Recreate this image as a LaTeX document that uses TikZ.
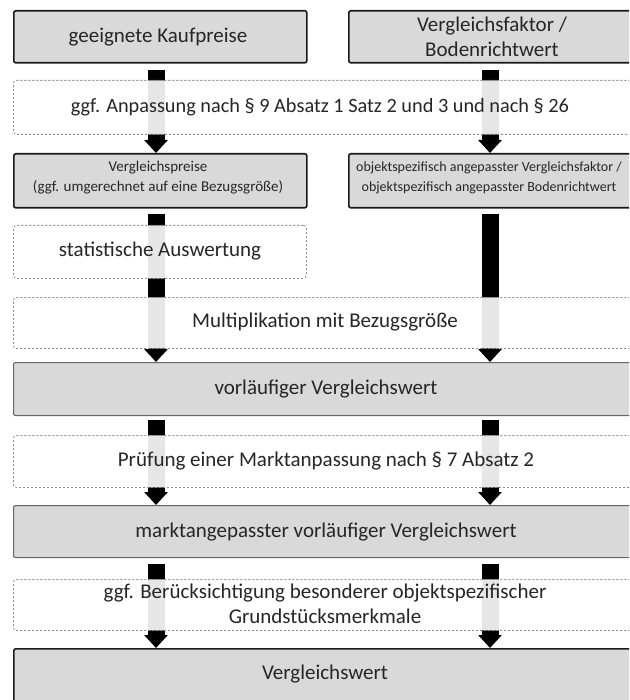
\documentclass[tikz,border=0pt]{standalone}
\usepackage{fontspec}
\setmainfont{Carlito}
\usetikzlibrary{arrows.meta}
\pgfdeclarelayer{bg}
\pgfsetlayers{bg,main}
\begin{document}
\begin{tikzpicture}[x=1pt,y=-1pt,
  solidbox/.style={draw=black!60, line width=1.1pt, fill=black!15, rounded corners=2pt, anchor=north west, inner sep=0pt},
  topbox/.style={solidbox, draw=black!90, line width=1.6pt},
  dashbox/.style={draw=black!45, line width=0.8pt, dash pattern=on 2pt off 2pt, fill=white, fill opacity=0.9, rounded corners=3pt, anchor=north west, inner sep=0pt},
  lbl/.style={text=black!85, font=\fontsize{21}{25}\selectfont, align=center, inner sep=0pt},
  widelbl/.style={lbl, font=\fontsize{20.3}{25}\selectfont},
  small/.style={lbl, font=\fontsize{15}{20}\selectfont},
  smaller/.style={lbl, font=\fontsize{14}{20}\selectfont},
  flow/.style={line width=17pt, black, -{Triangle[width=23pt,length=13pt]}},
]
\useasboundingbox (0,0) rectangle (629,700);
\clip (0,0) rectangle (629,700);
\coordinate (colL) at (156,0);
\coordinate (colR) at (490,0);
% dashed boxes
\node[dashbox, minimum width=700pt, minimum height=54pt] (d1) at (13,80) {};
\node[dashbox, minimum width=293pt, minimum height=53pt] (d2) at (13,225) {};
\node[dashbox, minimum width=700pt, minimum height=51pt] (d3) at (13,297) {};
\node[dashbox, minimum width=700pt, minimum height=52pt] (d4) at (13,435) {};
\node[dashbox, minimum width=700pt, minimum height=51pt] (d5) at (13,579) {};
% solid boxes
\node[topbox, minimum width=293pt, minimum height=52pt] (b1) at (13,10) {};
\node[topbox, minimum width=400pt, minimum height=52pt] (b2) at (348,10) {};
\node[topbox, minimum width=293pt, minimum height=54pt] (b3) at (13,153) {};
\node[topbox, minimum width=400pt, minimum height=54pt] (b4) at (348,153) {};
\node[solidbox, minimum width=700pt, minimum height=53pt] (b5) at (13,362) {};
\node[solidbox, minimum width=700pt, minimum height=52pt] (b6) at (13,505) {};
\node[topbox, minimum width=700pt, minimum height=80pt] (b7) at (13,648) {};
% arrows
\begin{pgfonlayer}{bg}
\draw[flow] ([yshift=-6pt]b1.south -| colL) -- (b3.north -| colL);
\draw[flow] ([yshift=-6pt]b2.south -| colR) -- (b4.north -| colR);
\draw[flow] ([yshift=-5pt]b3.south -| colL) -- (b5.north -| colL);
\draw[flow] ([yshift=-5pt]b4.south -| colR) -- (b5.north -| colR);
\draw[flow] ([yshift=-4pt]b5.south -| colL) -- (b6.north -| colL);
\draw[flow] ([yshift=-4pt]b5.south -| colR) -- (b6.north -| colR);
\draw[flow] ([yshift=-6pt]b6.south -| colL) -- (b7.north -| colL);
\draw[flow] ([yshift=-6pt]b6.south -| colR) -- (b7.north -| colR);
\end{pgfonlayer}
% labels
\node[lbl] (t1) at (158,37) {geeignete Kaufpreise};
\node[lbl] (t2) at (492,37) {Vergleichsfaktor /\\Bodenrichtwert};
\node[widelbl] (t3) at (320,107) {ggf. Anpassung nach § 9 Absatz 1 Satz 2 und 3 und nach § 26};
\node[small] (t4) at (158,178) {Vergleichspreise\\(ggf. umgerechnet auf eine Bezugsgröße)};
\node[smaller] (t5) at (489,178) {objektspezifisch angepasster Vergleichsfaktor /\\objektspezifisch angepasster Bodenrichtwert};
\node[lbl] (t6) at (160,251) {statistische Auswertung};
\node[lbl] (t7) at (325,322) {Multiplikation mit Bezugsgröße};
\node[lbl] (t8) at (326,389) {vorläufiger Vergleichswert};
\node[lbl] (t9) at (326,461) {Prüfung einer Marktanpassung nach § 7 Absatz 2};
\node[lbl] (t10) at (326,532) {marktangepasster vorläufiger Vergleichswert};
\node[lbl] (t11) at (325,604) {ggf. Berücksichtigung besonderer objektspezifischer\\Grundstücksmerkmale};
\node[lbl] (t12) at (325,674) {Vergleichswert};
\end{tikzpicture}
\end{document}
